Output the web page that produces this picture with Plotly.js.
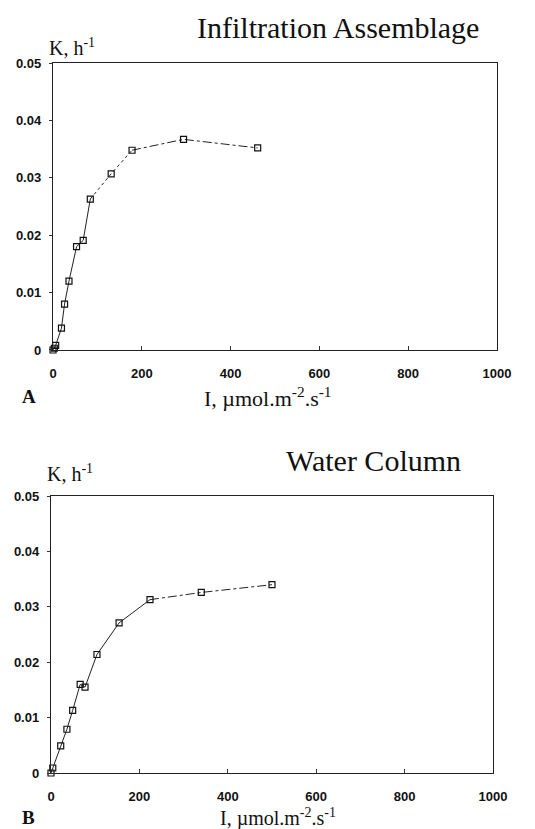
<!DOCTYPE html>
<html>
<head>
<meta charset="utf-8">
<script src="https://cdn.plot.ly/plotly-3.0.1.min.js"></script>
<style>html,body{margin:0;padding:0;background:#fff;}#chart{width:535px;height:829px;}</style>
</head>
<body>
<div id="chart"></div>
<script>
// Panel A: Infiltration Assemblage
const aI = [0, 3, 6, 19, 26, 36, 53, 68, 84, 131, 178, 294, 461];
const aK = [0, 0.0003, 0.0008, 0.0038, 0.008, 0.012, 0.018, 0.0191, 0.0263, 0.0307, 0.0348, 0.0367, 0.0352];
// Panel B: Water Column
const bI = [0, 4, 22, 36, 49, 66, 77, 104, 154, 224, 340, 500];
const bK = [0, 0.0009, 0.0049, 0.0079, 0.0113, 0.016, 0.0155, 0.0214, 0.0271, 0.0313, 0.0326, 0.034];
const xTicks = [0, 200, 400, 600, 800, 1000];
const yTicks = [0, 0.01, 0.02, 0.03, 0.04, 0.05];
const yTickText = ["0", "0.01", "0.02", "0.03", "0.04", "0.05"];
const titleA = "Infiltration Assemblage";
const titleB = "Water Column";

function seg(xs, ys, from, to, dash, xa, ya) {
  return {
    x: xs.slice(from, to + 1), y: ys.slice(from, to + 1),
    xaxis: xa, yaxis: ya, type: 'scatter', mode: 'lines',
    line: {color: '#222', width: 1, dash: dash},
    hoverinfo: 'skip', showlegend: false, cliponaxis: false
  };
}
function pts(xs, ys, xa, ya) {
  return {
    x: xs, y: ys, xaxis: xa, yaxis: ya, type: 'scatter', mode: 'markers',
    marker: {symbol: 'square-open', size: 6, color: '#111', line: {width: 1.2, color: '#111'}},
    showlegend: false, cliponaxis: false
  };
}

const traces = [
  seg(aI, aK, 0, 8, 'solid', 'x', 'y'),
  seg(aI, aK, 8, 10, 'dot', 'x', 'y'),
  seg(aI, aK, 10, aI.length - 1, 'dashdot', 'x', 'y'),
  pts(aI, aK, 'x', 'y'),
  seg(bI, bK, 0, 9, 'solid', 'x2', 'y2'),
  seg(bI, bK, 9, bI.length - 1, 'dashdot', 'x2', 'y2'),
  pts(bI, bK, 'x2', 'y2')
];

const tickFont = {family: 'Liberation Sans, Arial, sans-serif', size: 13, color: '#111', weight: 'bold'};
const serif = 'Liberation Serif, Times New Roman, serif';

function xax(domain, anchor) {
  return {
    domain: domain, anchor: anchor, range: [0, 1000], tickvals: xTicks,
    ticktext: xTicks.map(String), ticks: 'inside', ticklen: 4, tickcolor: '#333',
    showline: true, mirror: true, linecolor: '#222', linewidth: 1,
    showgrid: false, zeroline: false, tickfont: tickFont, ticklabelstandoff: 11
  };
}
function yax(domain, anchor) {
  return {
    domain: domain, anchor: anchor, range: [0, 0.05], tickvals: yTicks,
    ticktext: yTickText, ticks: 'outside', ticklen: 3, tickcolor: '#333',
    showline: true, mirror: true, linecolor: '#222', linewidth: 1.2,
    showgrid: false, zeroline: false, tickfont: tickFont, ticklabelstandoff: 5
  };
}

const ann = (text, x, y, size, xanchor, extra) => Object.assign({
  text: text, x: x, y: y, xref: 'paper', yref: 'paper', showarrow: false,
  xanchor: xanchor, yanchor: 'middle',
  font: {family: serif, size: size, color: '#111'}
}, extra || {});

const layout = {
  width: 535, height: 829,
  margin: {l: 51, r: 38, t: 63, b: 56},
  paper_bgcolor: '#fff', plot_bgcolor: '#fff',
  xaxis: xax([0.0045, 1], 'y'),
  yaxis: yax([0.5958, 1], 'x'),
  xaxis2: xax([0, 0.991], 'y2'),
  yaxis2: yax([0, 0.39], 'x2'),
  annotations: [
    ann(titleA, 0.6435, 1.0507, 30, 'center'),
    ann('K, h<sup>-1</sup>', -0.009, 1.0225, 20, 'left'),
    ann('I, \u00b5mol.m<sup>-2</sup>.s<sup>-1</sup>', 0.4865, 0.5296, 22, 'center'),
    ann('<b>A</b>', -0.07, 0.5296, 19, 'left'),
    ann(titleB, 0.724, 0.4408, 30, 'center'),
    ann('K, h<sup>-1</sup>', -0.013, 0.4225, 20, 'left'),
    ann('I, \u00b5mol.m<sup>-2</sup>.s<sup>-1</sup>', 0.509, -0.0625, 20, 'center'),
    ann('<b>B</b>', -0.07, -0.0625, 19, 'left')
  ]
};

Plotly.newPlot('chart', traces, layout, {displayModeBar: false, staticPlot: true});
</script>
</body>
</html>
